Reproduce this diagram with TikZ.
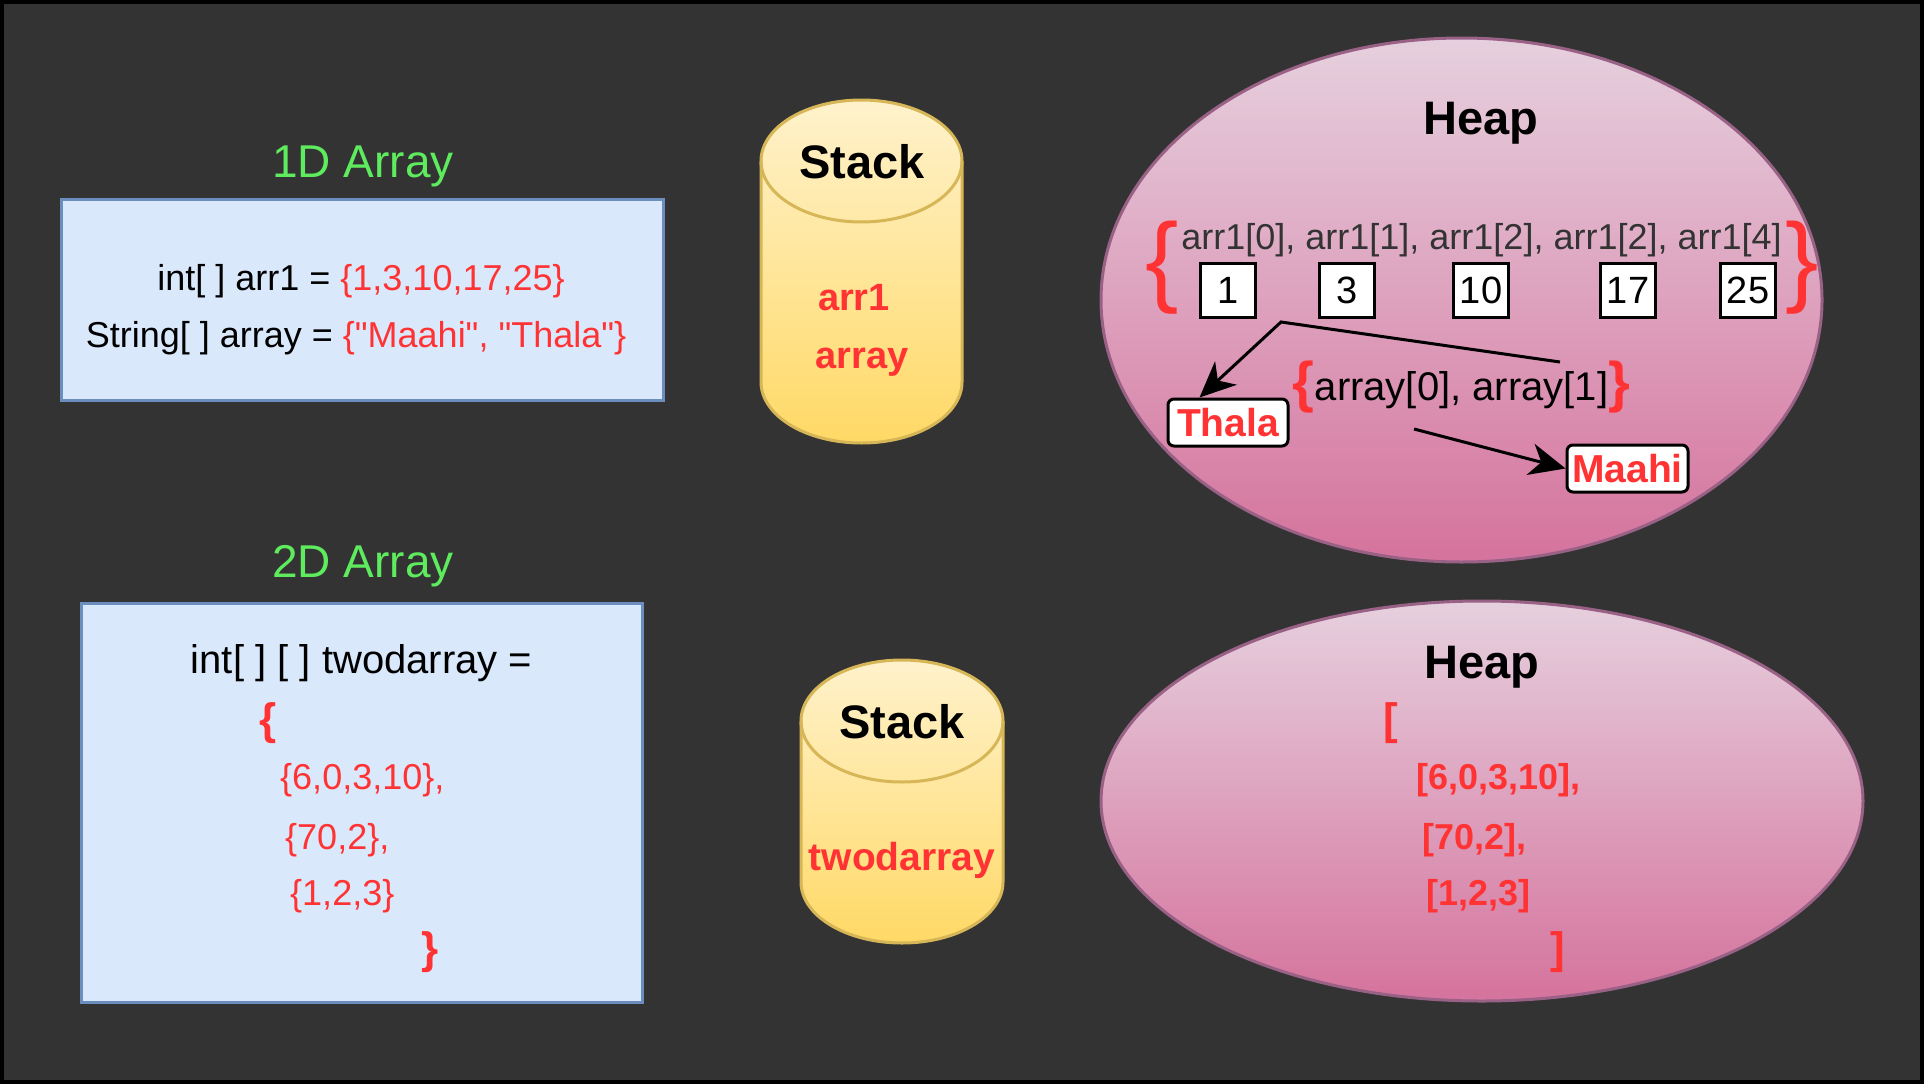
\documentclass[tikz,border=0pt]{standalone}
\usepackage{fontspec}
\setmainfont{Liberation Sans}
\newfontfamily\nolig{Liberation Sans}
\usetikzlibrary{shapes.geometric,arrows.meta}
\definecolor{bgc}{HTML}{333333}
\definecolor{greenT}{HTML}{5EEB5E}
\definecolor{redT}{HTML}{FF3333}
\definecolor{grayT}{HTML}{333333}
\definecolor{boxfill}{HTML}{DAE8FC}
\definecolor{boxline}{HTML}{6C8EBF}
\definecolor{stTop}{HTML}{FFF2CC}
\definecolor{stBot}{HTML}{FFD966}
\definecolor{stLine}{HTML}{D6B656}
\definecolor{hpTop}{HTML}{E6D0DE}
\definecolor{hpBot}{HTML}{D5739D}
\definecolor{hpLine}{HTML}{996185}
\newcommand\fsz[1]{\fontsize{#1pt}{#1pt}\selectfont}
\newcommand\qq{{\nolig\symbol{34}}}
\newcommand\mycyl[6]{% L R T B ry name
  \shadedraw[top color=stTop,bottom color=stBot,draw=stLine,line width=3pt]
    (#1,#3+#5) -- (#1,#4-#5)
    arc[start angle=180,end angle=360,x radius={(#2-#1)/2*1pt},y radius=#5pt]
    -- (#2,#3+#5)
    arc[start angle=0,end angle=180,x radius={(#2-#1)/2*1pt},y radius=#5pt] -- cycle;
  \draw[draw=stLine,line width=3pt] (#1,#3+#5)
    arc[start angle=180,end angle=360,x radius={(#2-#1)/2*1pt},y radius=#5pt];
  \coordinate (#6) at ({(#1+#2)/2},{(#3+#4)/2});
}
\tikzset{
  title/.style={text=greenT,font=\fsz{46},inner sep=0pt,anchor=base},
  code/.style={font=\fsz{36},inner sep=0pt},
  codebox/.style={draw=boxline,fill=boxfill,line width=3pt,inner sep=0pt},
  heap/.style={ellipse,draw=hpLine,line width=3pt,top color=hpTop,bottom color=hpBot,inner sep=0pt},
  bold/.style={font=\fsz{#1}\bfseries,inner sep=0pt},
  numbox/.style={draw=black,fill=white,line width=3pt,minimum width=55pt,minimum height=54pt,inner sep=0pt,font=\fsz{38}},
  strbox/.style={draw=black,fill=white,line width=3pt,rounded corners=6pt,minimum width=120pt,minimum height=47pt,inner sep=0pt,text=redT,font=\fsz{39}\bfseries},
  arrowline/.style={draw=black,line width=3pt,-{Stealth[length=36pt,width=32pt,inset=11pt]}},
}
\begin{document}
\begin{tikzpicture}[x=1pt,y=-1pt]
\useasboundingbox (0,0) rectangle (1924,1084);
\fill[black] (0,0) rectangle (1924,1084);
\fill[bgc] (4,4) rectangle (1920,1080);

% ---------- 1D array ----------
\node[title] (t1) at (363,177) {1D Array};
\node[codebox,minimum width=602pt,minimum height=201pt] (box1) at (362,300) {};
\node[code,anchor=base] (l1) at (361,290) {int[ ] arr1 = \textcolor{redT}{\{1,3,10,17,25\}}};
\node[code,anchor=base] (l2) at (356,347) {String[ ] array = \textcolor{redT}{\{\qq Maahi\qq, \qq Thala\qq\}}};

% ---------- 2D array ----------
\node[title] (t2) at (363,577) {2D Array};
\node[codebox,minimum width=561pt,minimum height=399pt] (box2) at (361.5,802.5) {};
\node[font=\fsz{40},inner sep=0pt,anchor=base] (m1) at (361.5,673) {int[ ] [ ] twodarray =};
\node[bold=44,text=redT,anchor=base west] (m2) at (259,734) {\{};
\node[code,text=redT,anchor=base west] (m3) at (280,789) {\{6,0,3,10\},};
\node[code,text=redT,anchor=base west] (m4) at (285,849) {\{70,2\},};
\node[code,text=redT,anchor=base west] (m5) at (290,905) {\{1,2,3\}};
\node[bold=44,text=redT,anchor=base west] (m6) at (421,963) {\}};

% ---------- stacks ----------
\mycyl{761}{962}{100}{443}{61}{stack1}
\node[bold=47,anchor=base] (s1) at (862,178) {Stack};
\node[bold=38,text=redT,anchor=base] (s1a) at (854,310) {arr1};
\node[bold=38,text=redT,anchor=base] (s1b) at (862,368) {array};

\mycyl{801}{1003}{660}{943}{61}{stack2}
\node[bold=47,anchor=base] (s2) at (902,738) {Stack};
\node[bold=39,text=redT,anchor=base] (s2a) at (902,870) {twodarray};

% ---------- heap 1 ----------
\node[heap,minimum width=721pt,minimum height=524pt] (heap1) at (1461.5,300) {};
\node[bold=47,anchor=base] (h1) at (1481,134) {Heap};
\node[font=\fsz{100},text=redT,inner sep=0pt,anchor=base] (bl) at (1162,293) {\{};
\node[font=\fsz{100},text=redT,inner sep=0pt,anchor=base] (br) at (1802,293) {\}};
\node[code,text=grayT,anchor=base] (idx) at (1481.5,249) {arr1[0], arr1[1], arr1[2], arr1[2], arr1[4]};
\node[numbox] (n1) at (1228,290) {1};
\node[numbox] (n2) at (1347,290) {3};
\node[numbox] (n3) at (1481,290) {10};
\node[numbox] (n4) at (1628,290) {17};
\node[numbox] (n5) at (1748,290) {25};
\node[bold=56,text=redT,anchor=base west] (al) at (1292,401) {\{};
\node[font=\fsz{40},inner sep=0pt,anchor=base] (atxt) at (1461.5,400) {array[0], array[1]};
\node[bold=56,text=redT,anchor=base west] (ar) at (1608,401) {\}};
\node[strbox] (thala) at (1228,422.5) {Thala};
\node[strbox,minimum width=121pt] (maahi) at (1627.5,468.5) {Maahi};
\coordinate (a1s) at (1560,362);
\coordinate (a1c) at (1281,322);
\coordinate (a2s) at (1414,429);
\draw[arrowline] (a1s) -- (a1c) -- ([xshift=33pt]thala.north west);
\draw[arrowline] (a2s) -- (maahi.west);

% ---------- heap 2 ----------
\node[heap,minimum width=762pt,minimum height=400pt] (heap2) at (1482,801) {};
\node[bold=47,anchor=base] (h2) at (1482,678) {Heap};
\node[bold=44,text=redT,anchor=base west] (k1) at (1383,734) {[};
\node[bold=36,text=redT,anchor=base west] (k2) at (1416,789) {[6,0,3,10],};
\node[bold=36,text=redT,anchor=base west] (k3) at (1422,849) {[70,2],};
\node[bold=36,text=redT,anchor=base west] (k4) at (1426,905) {[1,2,3]};
\node[bold=44,text=redT,anchor=base west] (k5) at (1550,963) {]};
\end{tikzpicture}
\end{document}
